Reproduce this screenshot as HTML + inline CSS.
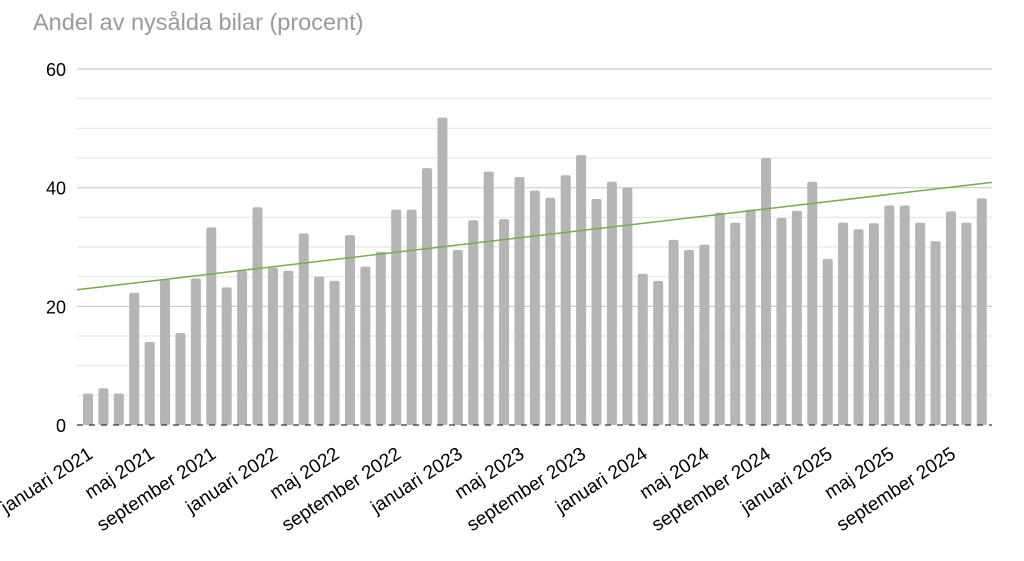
<!DOCTYPE html><html><head><meta charset="utf-8"><style>body{margin:0;background:#fff}</style></head><body>
<svg width="1024" height="556" xmlns="http://www.w3.org/2000/svg" font-family="Liberation Sans, sans-serif">
<text x="33" y="30" font-size="23.5" fill="#9a9a9a">Andel av nysålda bilar (procent)</text>
<g id="g"></g>
</svg>
<script>
const v=[5.3,6.2,5.3,22.3,14,24.5,15.5,24.7,33.3,23.2,26,36.7,26.5,26,32.3,25,24.3,32,26.7,29.2,36.3,36.3,43.3,51.8,29.5,34.5,42.7,34.7,41.8,39.5,38.3,42.1,45.5,38.1,41,40,25.5,24.3,31.2,29.5,30.4,35.8,34.1,36.3,45,34.9,36.1,41,28,34.1,33,34,37,37,34.1,31,36,34.1,38.2];
const g=document.getElementById('g');let s='';
const Y=d=>425-d*5.933;
for(let d=5;d<=60;d+=5){const maj=d%20==0;s+=`<line x1="77" x2="992" y1="${Y(d)}" y2="${Y(d)}" stroke="${maj?'#cccccc':'#e8e8e8'}" stroke-width="1.2"/>`;}
[0,20,40,60].forEach(d=>s+=`<text x="66" y="${Y(d)+7}" font-size="18" text-anchor="end" fill="#000">${d}</text>`);
v.forEach((d,i)=>{const x=88+i*15.41;s+=`<rect x="${x-5}" y="${Y(d)}" width="10" height="${d*5.933}" rx="2" fill="#b5b5b5"/>`;});
s+=`<line x1="77" x2="992" y1="425" y2="425" stroke="#333" stroke-width="1.2" stroke-dasharray="6,6"/>`;
s+=`<line x1="77" x2="992" y1="${Y(22.8)}" y2="${Y(40.9)}" stroke="#7aab4a" stroke-width="1.5"/>`;
const L=['januari','maj','september'];
for(let i=0;i<59;i+=4){const x=88+i*15.41+6;const t=L[(i/4)%3]+' '+(2021+Math.floor(i/12));s+=`<text transform="translate(${x},457) rotate(-33)" font-size="19" text-anchor="end" fill="#000">${t}</text>`;}
g.innerHTML=s;
</script>
</body></html>
